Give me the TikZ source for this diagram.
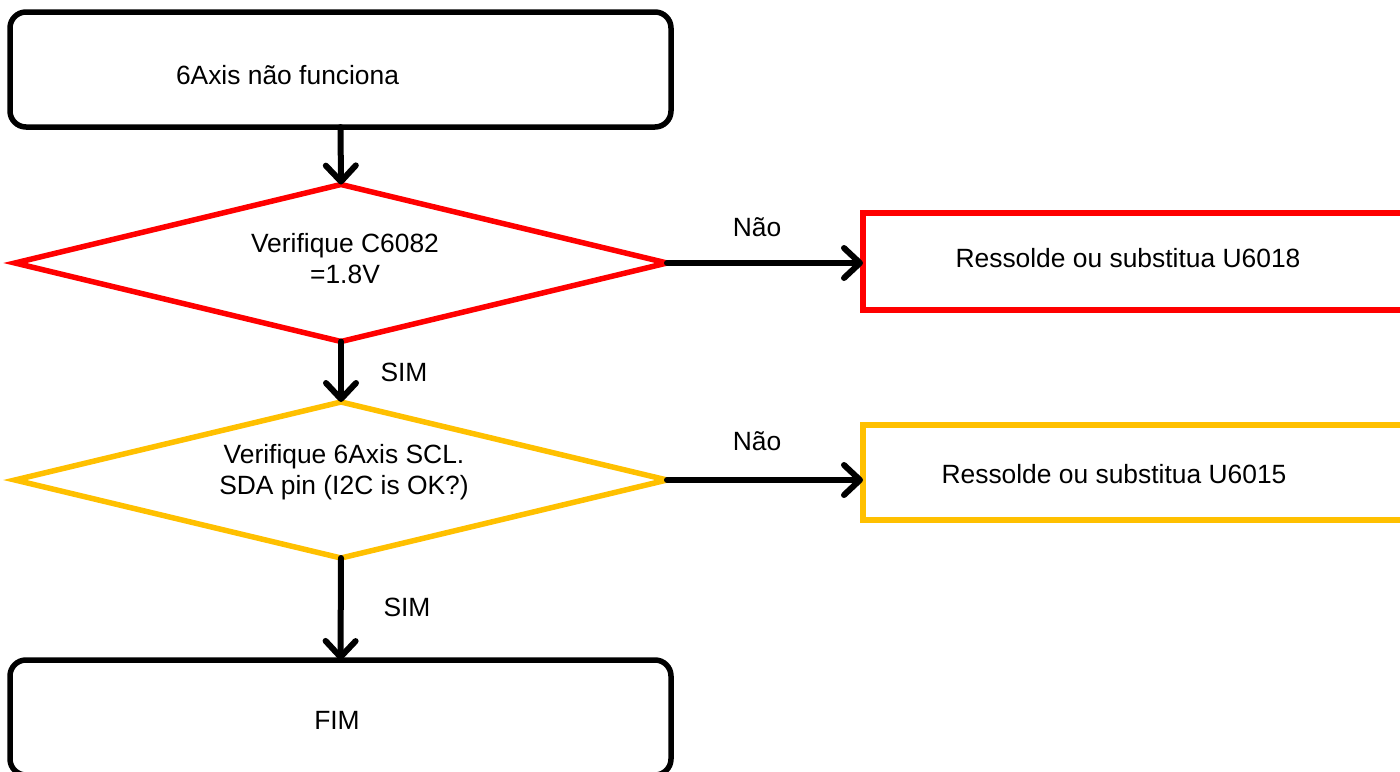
\documentclass[tikz,border=0pt]{standalone}
\usepackage{fontspec}
\setmainfont{Liberation Sans}
\usetikzlibrary{shapes.geometric,arrows.meta}
\definecolor{myred}{HTML}{FF0000}
\definecolor{myyellow}{HTML}{FFC000}
\begin{document}
\begin{tikzpicture}[x=1pt,y=-1pt,
  every node/.style={font=\fontsize{26.4}{31}\selectfont, inner sep=0pt, outer sep=0pt},
  roundbox/.style={draw=black, line width=5.5pt, rounded corners=16pt},
  decision/.style={diamond, draw, line width=5.5pt, align=center},
  actbox/.style={draw, line width=5.5pt},
  txt/.style={align=center},
  arr/.style={line width=6pt, line cap=round, -{Straight Barb[length=16pt, width=30pt, line cap=round, line join=round]}}
]
\useasboundingbox (0,0) rectangle (1400,771);
\fill[white] (0,0) rectangle (1400,771);

% nodes
\node[roundbox, minimum width=661pt, minimum height=115pt] (start) at (340.5,69.5) {};
\node[anchor=west] (starttxt) at (176,75) {6Axis não funciona};

\node[decision, draw=myred, minimum width=652pt, minimum height=157pt] (d1) at (341,263) {};
\node[txt] (d1txt) at (345,259) {Verifique C6082\\=1.8V};

\node[actbox, draw=myred, minimum width=560pt, minimum height=97pt, anchor=west] (r1) at (863,261.5) {};
\node (r1txt) at (1128,258) {Ressolde ou substitua U6018};

\node[decision, draw=myyellow, minimum width=652pt, minimum height=156pt] (d2) at (341,480) {};
\node[txt] (d2txt) at (344,472) {Verifique 6Axis SCL.\\SDA pin (I2C is OK?)};

\node[actbox, draw=myyellow, minimum width=560pt, minimum height=95pt, anchor=west] (r2) at (863,472.5) {};
\node (r2txt) at (1114,474) {Ressolde ou substitua U6015};

\node[roundbox, minimum width=661pt, minimum height=115pt] (fim) at (340.5,717.5) {};
\node (fimtxt) at (337,720) {FIM};

% labels
\node (lab1) at (757,227) {Não};
\node (lab2) at (404,372) {SIM};
\node (lab3) at (757,441) {Não};
\node (lab4) at (407,607) {SIM};

% connectors
\draw[arr] (start.south) -- (d1.north);
\draw[arr] (d1.east) -- (d1.east -| r1.west);
\draw[arr] (d1.south) -- (d2.north);
\draw[arr] (d2.east) -- (d2.east -| r2.west);
\draw[arr] (d2.south) -- (fim.north);
\end{tikzpicture}
\end{document}
